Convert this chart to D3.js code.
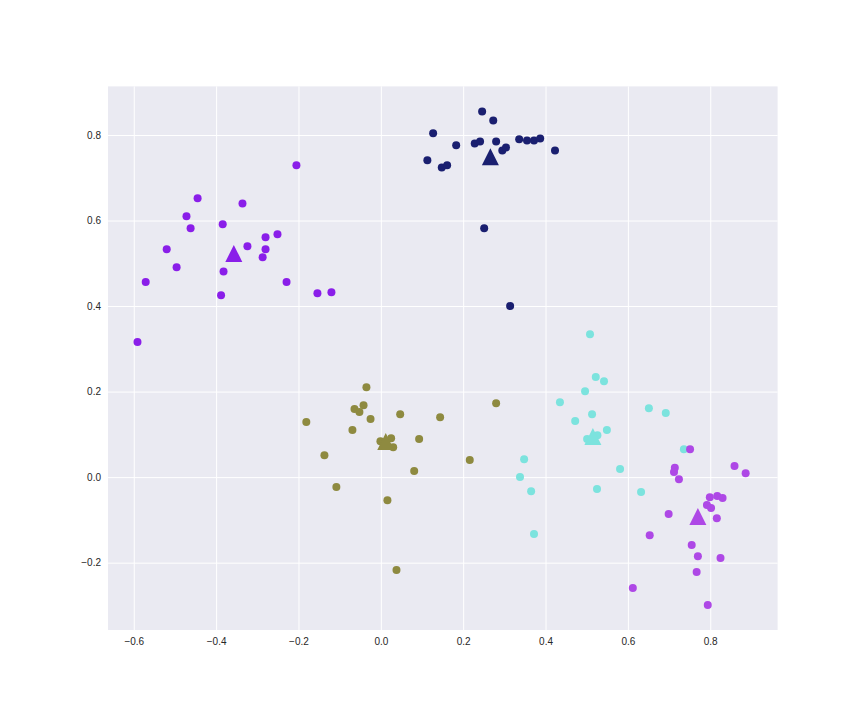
<!DOCTYPE html>
<html>
<head>
<meta charset="utf-8">
<script src="https://cdn.jsdelivr.net/npm/d3@7"></script>
<style>
  html, body { margin: 0; padding: 0; background: #ffffff; }
  svg { display: block; }
  text { font-family: "Liberation Sans", Arial, sans-serif; }
</style>
</head>
<body>
<svg id="chart" width="864" height="720"></svg>
<script>
// ---- data ----
const clusterColors = ["#8a1ee9", "#1a1f70", "#8e8a40", "#7ce3de", "#ae48e6"];

const purpleX = [-0.205,-0.445,-0.336,-0.472,-0.462,-0.384,-0.520,-0.324,-0.280,-0.251,-0.280,-0.287,-0.496,-0.382,-0.571,-0.229,-0.388,-0.154,-0.120,-0.591];
const purpleY = [0.729,0.652,0.640,0.610,0.582,0.591,0.533,0.540,0.561,0.568,0.533,0.514,0.491,0.481,0.456,0.456,0.425,0.430,0.432,0.316];

const navyX = [0.246,0.273,0.127,0.183,0.228,0.241,0.280,0.295,0.304,0.336,0.355,0.372,0.387,0.423,0.113,0.148,0.161,0.251,0.314];
const navyY = [0.855,0.834,0.804,0.776,0.780,0.785,0.785,0.764,0.771,0.790,0.787,0.787,0.792,0.764,0.741,0.724,0.729,0.582,0.400];

const oliveX = [-0.035,0.280,-0.064,-0.042,-0.052,0.047,0.144,-0.025,-0.181,-0.069,0.093,-0.001,0.025,0.030,-0.137,0.216,0.081,-0.108,0.016,0.038];
const oliveY = [0.210,0.173,0.159,0.168,0.152,0.147,0.140,0.136,0.129,0.110,0.089,0.084,0.091,0.070,0.051,0.040,0.014,-0.023,-0.054,-0.217];

const cyanX = [0.508,0.522,0.542,0.496,0.435,0.651,0.692,0.513,0.472,0.549,0.501,0.526,0.736,0.348,0.581,0.338,0.365,0.525,0.632,0.372];
const cyanY = [0.334,0.234,0.224,0.201,0.175,0.161,0.150,0.147,0.131,0.110,0.089,0.098,0.065,0.042,0.019,0.000,-0.033,-0.028,-0.035,-0.133];

const magentaX = [0.751,0.714,0.712,0.724,0.859,0.886,0.799,0.817,0.830,0.792,0.802,0.816,0.699,0.653,0.755,0.770,0.825,0.767,0.612,0.794];
const magentaY = [0.065,0.022,0.012,-0.005,0.026,0.009,-0.047,-0.044,-0.049,-0.065,-0.072,-0.096,-0.086,-0.136,-0.159,-0.185,-0.189,-0.222,-0.259,-0.299];

const centroidX = [-0.357, 0.266, 0.012, 0.515, 0.770];
const centroidY = [0.523, 0.749, 0.083, 0.095, -0.092];

const xTicks = [-0.6,-0.4,-0.2,0.0,0.2,0.4,0.6,0.8];
const yTicks = [-0.2,0.0,0.2,0.4,0.6,0.8];
const xDomain = [-0.6626, 0.9636];
const yDomain = [-0.3575, 0.9136];

// ---- layout ----
const mLeft = 108, mRight = 777.6, mTop = 86.4, mBottom = 630;

const svg = d3.select("#chart");
const x = d3.scaleLinear().domain(xDomain).range([mLeft, mRight]);
const y = d3.scaleLinear().domain(yDomain).range([mBottom, mTop]);

svg.append("rect")
  .attr("x", mLeft).attr("y", mTop)
  .attr("width", mRight - mLeft).attr("height", mBottom - mTop)
  .attr("fill", "#eaeaf2");

const fmt = v => d3.format(".1f")(v).replace("-", "\u2212").replace("\u22120.0", "0.0");

const gx = svg.append("g")
  .attr("transform", `translate(0,${mBottom})`)
  .call(d3.axisBottom(x).tickValues(xTicks).tickFormat(fmt).tickSize(-(mBottom - mTop)).tickPadding(8));
const gy = svg.append("g")
  .attr("transform", `translate(${mLeft},0)`)
  .call(d3.axisLeft(y).tickValues(yTicks).tickFormat(fmt).tickSize(-(mRight - mLeft)).tickPadding(7));

[gx, gy].forEach(g => {
  g.select(".domain").remove();
  g.selectAll(".tick line").attr("stroke", "#ffffff").attr("stroke-width", 1);
  g.selectAll(".tick text").attr("fill", "#262626").attr("font-size", 10);
});

// points
const clusters = [
  [purpleX, purpleY],
  [navyX, navyY],
  [oliveX, oliveY],
  [cyanX, cyanY],
  [magentaX, magentaY]
];
const pts = svg.append("g");
clusters.forEach(([xs, ys], ci) => {
  pts.selectAll(null)
    .data(xs.map((v, i) => ({ x: v, y: ys[i] })))
    .enter().append("circle")
    .attr("cx", d => x(d.x))
    .attr("cy", d => y(d.y))
    .attr("r", 4)
    .attr("fill", clusterColors[ci]);
});

// centroids (triangles)
const tri = d3.line();
const hs = 8.5;
svg.append("g").selectAll("path")
  .data(centroidX.map((v, i) => ({ x: v, y: centroidY[i], c: clusterColors[i] })))
  .enter().append("path")
  .attr("d", tri([[0, -hs], [-hs, hs], [hs, hs]]) + "Z")
  .attr("transform", d => `translate(${x(d.x)},${y(d.y)})`)
  .attr("fill", d => d.c);
</script>
</body>
</html>
